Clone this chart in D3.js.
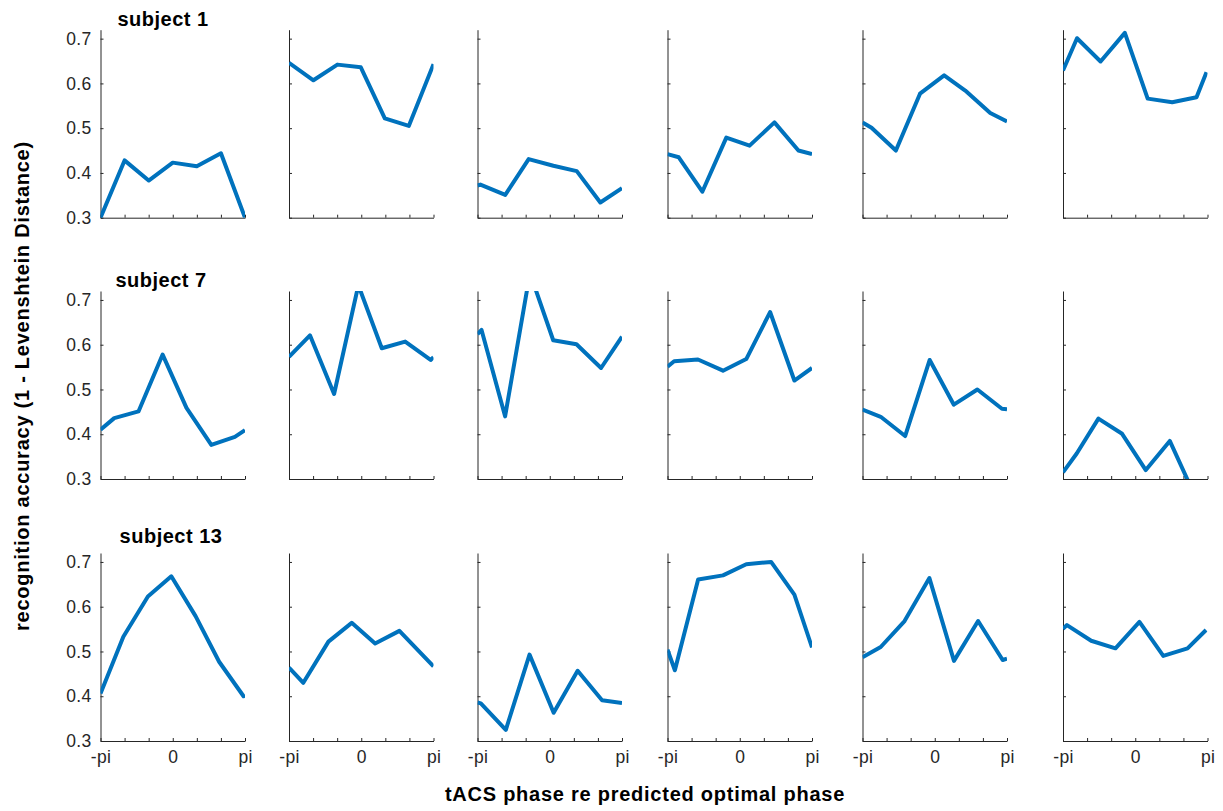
<!DOCTYPE html>
<html>
<head>
<meta charset="utf-8">
<script src="https://cdn.jsdelivr.net/npm/d3@7"></script>
<style>
  body { margin: 0; background: #fff; }
  svg { font-family: "Liberation Sans", Arial, Helvetica, sans-serif; }
  .tick text { fill: #262626; font-size: 17.5px; letter-spacing: 0.3px; }
  .domain, .tick line { stroke: #262626; stroke-width: 1; }
  .title { font-weight: bold; font-size: 20px; letter-spacing: 0.5px; fill: #000; }
  .label { font-weight: bold; font-size: 20px; letter-spacing: 0.75px; fill: #000; }
</style>
</head>
<body>
<div id="chart"></div>
<script>
// phase values are in units of pi (-1 = -pi, 1 = pi)
const subjects = ["subject 1", "subject 7", "subject 13"];

const s1Phase = [
  [-1, -0.667, -0.333, 0, 0.333, 0.667, 1],
  [-1, -0.662, -0.33, -0.006, 0.326, 0.658, 1],
  [-1, -0.96, -0.616, -0.292, 0.05, 0.374, 0.70, 1],
  [-1, -0.844, -0.518, -0.186, 0.136, 0.48, 0.812, 1],
  [-1, -0.875, -0.538, -0.204, 0.13, 0.422, 0.768, 1],
  [-1, -0.806, -0.48, -0.144, 0.172, 0.512, 0.848, 0.986]
];
const s1Acc = [
  [0.30, 0.428, 0.383, 0.423, 0.415, 0.444, 0.30],
  [0.646, 0.607, 0.642, 0.636, 0.522, 0.505, 0.643],
  [0.372, 0.374, 0.351, 0.431, 0.416, 0.404, 0.334, 0.366],
  [0.442, 0.435, 0.358, 0.479, 0.461, 0.513, 0.450, 0.442],
  [0.513, 0.501, 0.450, 0.577, 0.618, 0.584, 0.534, 0.515],
  [0.629, 0.701, 0.649, 0.713, 0.566, 0.558, 0.569, 0.625]
];

const s7Phase = [
  [-1, -0.81, -0.474, -0.14, 0.19, 0.534, 0.86, 1],
  [-1, -0.71, -0.376, -0.04, 0.284, 0.608, 0.96, 1],
  [-1, -0.944, -0.618, -0.274, 0.048, 0.37, 0.71, 1],
  [-1, -0.908, -0.578, -0.232, 0.09, 0.42, 0.756, 1],
  [-1, -0.748, -0.41, -0.07, 0.264, 0.59, 0.93, 1],
  [-1, -0.81, -0.51, -0.182, 0.146, 0.478, 0.804, 1]
];
const s7Acc = [
  [0.410, 0.436, 0.451, 0.578, 0.459, 0.376, 0.394, 0.409],
  [0.573, 0.621, 0.490, 0.733, 0.592, 0.607, 0.566, 0.572],
  [0.624, 0.633, 0.440, 0.760, 0.610, 0.601, 0.548, 0.618],
  [0.551, 0.563, 0.567, 0.542, 0.568, 0.673, 0.520, 0.548],
  [0.455, 0.439, 0.396, 0.566, 0.466, 0.500, 0.457, 0.456],
  [0.315, 0.357, 0.435, 0.401, 0.320, 0.385, 0.270, 0.290]
];

const s13Phase = [
  [-1, -0.684, -0.344, -0.02, 0.316, 0.642, 0.98, 1],
  [-1, -0.802, -0.454, -0.132, 0.192, 0.528, 1],
  [-1, -0.954, -0.608, -0.28, 0.054, 0.386, 0.724, 1],
  [-1, -0.898, -0.576, -0.232, 0.09, 0.434, 0.756, 1],
  [-1, -0.748, -0.418, -0.074, 0.266, 0.60, 0.94, 1],
  [-1, -0.945, -0.61, -0.274, 0.058, 0.388, 0.724, 0.98]
];
const s13Acc = [
  [0.406, 0.533, 0.623, 0.668, 0.579, 0.477, 0.400, 0.402],
  [0.464, 0.430, 0.522, 0.564, 0.518, 0.546, 0.467],
  [0.386, 0.384, 0.325, 0.493, 0.363, 0.457, 0.391, 0.385],
  [0.504, 0.458, 0.661, 0.670, 0.695, 0.700, 0.627, 0.509],
  [0.487, 0.510, 0.568, 0.664, 0.479, 0.568, 0.481, 0.484],
  [0.551, 0.559, 0.524, 0.507, 0.566, 0.490, 0.507, 0.548]
];

const yTicks = [0.3, 0.4, 0.5, 0.6, 0.7];
const xTicks = [-1, -2/3, -1/3, 0, 1/3, 2/3, 1];
const xTickLabels = { "-1": "-pi", "0": "0", "1": "pi" };

const phases = [s1Phase, s7Phase, s13Phase];
const accs = [s1Acc, s7Acc, s13Acc];

// layout
const W = 1223, H = 811;
const colLeft = [100.5, 289, 477.5, 667.5, 862.5, 1063];
const panelW = 144.5;
const rowBottom = [217.7, 479, 741];
const panelH = 188;
const titleY = [26, 287, 543];
const titleX = [163, 161, 171];

const svg = d3.select("#chart").append("svg")
    .attr("width", W)
    .attr("height", H);

const x = d3.scaleLinear().domain([-1, 1]).range([0, panelW]);
const y = d3.scaleLinear().domain([0.3, 0.72]).range([panelH, 0]);

const line = d3.line()
    .x(d => x(d[0]))
    .y(d => y(d[1]));

subjects.forEach((name, r) => {
    phases[r].forEach((ph, c) => {
        const g = svg.append("g")
            .attr("transform", `translate(${colLeft[c]},${rowBottom[r] - panelH})`);

        const clipId = `clip-${r}-${c}`;
        g.append("clipPath").attr("id", clipId)
            .append("rect")
            .attr("width", panelW)
            .attr("height", panelH);

        g.append("g")
            .attr("transform", `translate(0,${panelH})`)
            .call(d3.axisBottom(x)
                .tickValues(xTicks)
                .tickSizeInner(-3)
                .tickSizeOuter(0)
                .tickPadding(10)
                .tickFormat(d => r === 2 ? (xTickLabels[Math.round(d * 3) / 3] || "") : ""));

        g.append("g")
            .call(d3.axisLeft(y)
                .tickValues(yTicks)
                .tickSizeInner(-3)
                .tickSizeOuter(0)
                .tickPadding(9)
                .tickFormat(d => c === 0 ? d3.format(".1f")(d) : ""));

        const pts = ph.map((p, i) => [p, accs[r][c][i]]);
        g.append("path")
            .datum(pts)
            .attr("clip-path", `url(#${clipId})`)
            .attr("fill", "none")
            .attr("stroke", "#0072BD")
            .attr("stroke-width", 4)
            .attr("stroke-linejoin", "round")
            .attr("d", line);
    });

    svg.append("text")
        .attr("class", "title")
        .attr("x", titleX[r])
        .attr("y", titleY[r])
        .attr("text-anchor", "middle")
        .text(name);
});

svg.append("text")
    .attr("class", "label")
    .attr("x", 645)
    .attr("y", 801)
    .attr("text-anchor", "middle")
    .text("tACS phase re predicted optimal phase");

svg.append("text")
    .attr("class", "label")
    .attr("transform", "translate(29,386) rotate(-90)")
    .attr("text-anchor", "middle")
    .text("recognition accuracy (1 - Levenshtein Distance)");
</script>
</body>
</html>
